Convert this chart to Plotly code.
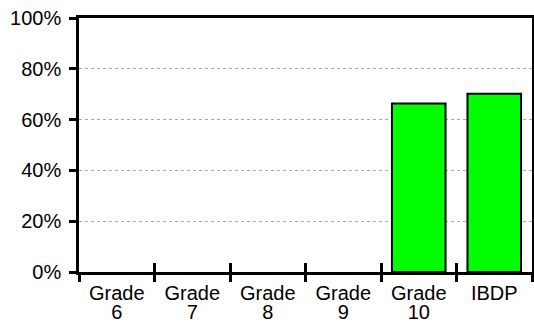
import plotly.graph_objects as go

# Share of students per grade level (percent)
categories = ["Grade 6", "Grade 7", "Grade 8", "Grade 9", "Grade 10", "IBDP"]
values = [None, None, None, None, 66.3, 70.2]
y_ticks = [0, 20, 40, 60, 80, 100]

FONT = dict(family="Liberation Sans, Arial, sans-serif", size=20, color="black")
LINE_W = 2.5

n = len(categories)
centers = list(range(n))
bounds = [i - 0.5 for i in range(n + 1)]
x_range = [bounds[0], bounds[-1]]

# category names split over two lines, each line on its own label axis
first_line = [c.split(" ")[0] for c in categories]
second_line = [c.split(" ")[1] if " " in c else "" for c in categories]

fig = go.Figure()
fig.add_trace(go.Bar(
    x=centers, y=values, width=0.71,
    marker=dict(color="#00ff00", line=dict(color="black", width=2)),
    hoverinfo="skip",
))

fig.update_layout(
    width=534, height=322,
    margin=dict(l=79, r=2, t=18, b=50, autoexpand=False),
    paper_bgcolor="white", plot_bgcolor="white",
    font=FONT,
    showlegend=False,
    # main axis: frame + outward ticks at category boundaries
    xaxis=dict(
        range=x_range, tickmode="array", tickvals=bounds, ticktext=[""] * len(bounds),
        ticks="outside", ticklen=7, tickwidth=LINE_W, tickcolor="black",
        showline=True, linecolor="black", linewidth=LINE_W, mirror=True,
        showgrid=False, zeroline=False, automargin=False,
    ),
    # inward half of the boundary ticks
    xaxis2=dict(
        range=x_range, overlaying="x", anchor="y", side="bottom",
        tickmode="array", tickvals=bounds, ticktext=[""] * len(bounds),
        ticks="inside", ticklen=9, tickwidth=LINE_W, tickcolor="black",
        showline=False, showgrid=False, zeroline=False, automargin=False,
    ),
    # first line of the category labels
    xaxis3=dict(
        range=x_range, overlaying="x", anchor="y", side="bottom",
        tickmode="array", tickvals=centers, ticktext=first_line,
        ticks="", ticklabelstandoff=7, tickfont=FONT,
        showline=False, showgrid=False, zeroline=False, automargin=False,
    ),
    # second line of the category labels
    xaxis4=dict(
        range=x_range, overlaying="x", anchor="y", side="bottom",
        tickmode="array", tickvals=centers, ticktext=second_line,
        ticks="", ticklabelstandoff=26, tickfont=FONT,
        showline=False, showgrid=False, zeroline=False, automargin=False,
    ),
    yaxis=dict(
        range=[0, 100], tickmode="array", tickvals=y_ticks,
        ticktext=[f"{v}%" for v in y_ticks],
        ticks="outside", ticklen=7, tickwidth=LINE_W, tickcolor="black",
        ticklabelstandoff=4,
        showline=True, linecolor="black", linewidth=LINE_W, mirror=True,
        showgrid=True, gridcolor="#aaaaaa", gridwidth=1, griddash="dot",
        zeroline=False, tickfont=FONT, automargin=False,
    ),
)

# empty traces so the overlay axes are drawn
for ax in ["x2", "x3", "x4"]:
    fig.add_trace(go.Scatter(x=[None], y=[None], xaxis=ax, yaxis="y",
                             mode="markers", showlegend=False, hoverinfo="skip"))

fig.write_html("out.html")
